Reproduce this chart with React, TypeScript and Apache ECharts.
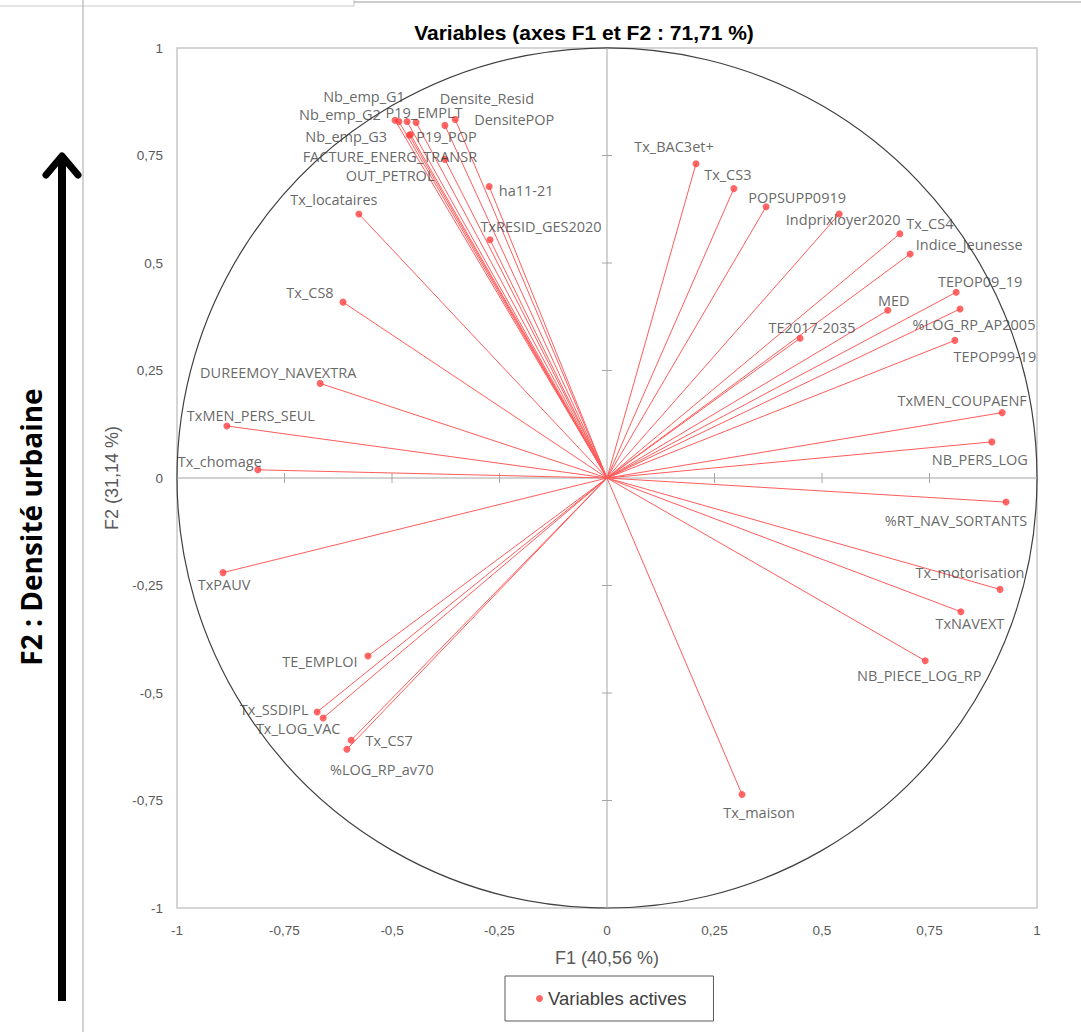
import React, { useEffect, useRef } from "react";
import * as echarts from "echarts";

const variableNames = [
  "Nb_emp_G1", "Nb_emp_G2", "P19_EMPLT", "OUT_PETROL", "Densite_Resid", "DensitePOP",
  "Nb_emp_G3", "P19_POP", "FACTURE_ENERG_TRANSR", "ha11-21", "TxRESID_GES2020", "Tx_locataires",
  "Tx_BAC3et+", "Tx_CS3", "POPSUPP0919", "Indprixloyer2020", "Tx_CS4", "Indice_Jeunesse",
  "TEPOP09_19", "MED", "%LOG_RP_AP2005", "TE2017-2035", "TEPOP99-19", "TxMEN_COUPAENF",
  "NB_PERS_LOG", "%RT_NAV_SORTANTS", "Tx_motorisation", "TxNAVEXT", "NB_PIECE_LOG_RP", "Tx_maison",
  "Tx_CS8", "DUREEMOY_NAVEXTRA", "TxMEN_PERS_SEUL", "Tx_chomage", "TxPAUV", "TE_EMPLOI",
  "Tx_SSDIPL", "Tx_LOG_VAC", "Tx_CS7", "%LOG_RP_av70",
];

const f1Values = [
  -0.493, -0.484, -0.465, -0.444, -0.377, -0.353,
  -0.460, -0.457, -0.377, -0.274, -0.272, -0.577,
  0.207, 0.295, 0.370, 0.540, 0.681, 0.705,
  0.812, 0.653, 0.821, 0.449, 0.809, 0.919,
  0.895, 0.928, 0.914, 0.823, 0.740, 0.314,
  -0.614, -0.667, -0.884, -0.812, -0.893, -0.556,
  -0.674, -0.660, -0.595, -0.605,
];

const f2Values = [
  0.832, 0.829, 0.829, 0.827, 0.820, 0.834,
  0.797, 0.799, 0.741, 0.678, 0.554, 0.614,
  0.731, 0.673, 0.631, 0.614, 0.568, 0.521,
  0.432, 0.390, 0.393, 0.325, 0.320, 0.152,
  0.084, -0.056, -0.259, -0.311, -0.425, -0.736,
  0.409, 0.220, 0.121, 0.019, -0.220, -0.414,
  -0.544, -0.558, -0.610, -0.631,
];

const axisTicks = [-1, -0.75, -0.5, -0.25, 0, 0.25, 0.5, 0.75, 1];
const AXIS_MIN = -1;
const AXIS_MAX = 1;
const AXIS_STEP = 0.25;

// label placement (pixel offsets from the point), not data
const labelOffsets: Record<string, [number, number]> = {
  "Nb_emp_G1": [-31, -24],
  "Nb_emp_G2": [-59, -7],
  "P19_EMPLT": [17, -9],
  "OUT_PETROL": [-26, 53],
  "Densite_Resid": [42, -27],
  "DensitePOP": [59, 0],
  "Nb_emp_G3": [-63, 1],
  "P19_POP": [36, 2],
  "FACTURE_ENERG_TRANSR": [-55, -3],
  "ha11-21": [37, 4],
  "TxRESID_GES2020": [51, -13],
  "Tx_locataires": [-25, -14],
  "Tx_BAC3et+": [-22, -17],
  "Tx_CS3": [-6, -14],
  "POPSUPP0919": [31, -9],
  "Indprixloyer2020": [4, 6],
  "Tx_CS4": [30, -10],
  "Indice_Jeunesse": [59, -9],
  "TEPOP09_19": [24, -11],
  "MED": [6, -10],
  "%LOG_RP_AP2005": [14, 15],
  "TE2017-2035": [12, -11],
  "TEPOP99-19": [40, 16],
  "TxMEN_COUPAENF": [-40, -12],
  "NB_PERS_LOG": [-12, 18],
  "%RT_NAV_SORTANTS": [-50, 18],
  "Tx_motorisation": [-30, -17],
  "TxNAVEXT": [9, 12],
  "NB_PIECE_LOG_RP": [-6, 15],
  "Tx_maison": [17, 18],
  "Tx_CS8": [-33, -10],
  "DUREEMOY_NAVEXTRA": [-42, -11],
  "TxMEN_PERS_SEUL": [24, -10],
  "Tx_chomage": [-38, -8],
  "TxPAUV": [1, 12],
  "TE_EMPLOI": [-48, 5],
  "Tx_SSDIPL": [-43, -2],
  "Tx_LOG_VAC": [-25, 11],
  "Tx_CS7": [38, 0],
  "%LOG_RP_av70": [35, 20],
};

const fmt = (v: number) => String(v).replace(".", ",");

export default function App() {
  const ref = useRef<HTMLDivElement>(null);

  useEffect(() => {
    if (!ref.current) return;
    const chart = echarts.init(ref.current, null, { renderer: "svg" });

    const points = variableNames.map((n, i) => [f1Values[i], f2Values[i]]);
    const scatterData = variableNames.map((n, i) => ({
      name: n,
      value: [f1Values[i], f2Values[i]],
      label: { offset: labelOffsets[n] || [0, -12] },
    }));

    const FONT = "'Open Sans', 'Noto Sans', sans-serif";
    const ARIAL = "'Liberation Sans', Arial, sans-serif";

    const option: any = {
      animation: false,
      backgroundColor: "#ffffff",
      grid: {
        left: 177,
        right: 44,
        top: 48,
        bottom: 124,
        show: true,
        borderColor: "#C8C8C8",
        borderWidth: 1.5,
        backgroundColor: "transparent",
      },
      xAxis: {
        type: "value",
        min: AXIS_MIN,
        max: AXIS_MAX,
        interval: AXIS_STEP,
        position: "bottom",
        axisLine: { show: false, onZero: false },
        axisTick: { show: false },
        splitLine: { show: false },
        axisLabel: {
          formatter: fmt,
          color: "#595959",
          fontSize: 13.5,
          fontFamily: ARIAL,
          margin: 15,
        },
        name: "F1 (40,56 %)",
        nameLocation: "middle",
        nameGap: 41,
        nameTextStyle: { color: "#595959", fontSize: 18, fontFamily: ARIAL },
      },
      yAxis: {
        type: "value",
        min: AXIS_MIN,
        max: AXIS_MAX,
        interval: AXIS_STEP,
        position: "left",
        axisLine: { show: false, onZero: false },
        axisTick: { show: false },
        splitLine: { show: false },
        axisLabel: {
          formatter: fmt,
          color: "#595959",
          fontSize: 13.5,
          fontFamily: ARIAL,
          margin: 14,
        },
        name: "F2 (31,14 %)",
        nameLocation: "middle",
        nameGap: 54,
        nameTextStyle: { color: "#595959", fontSize: 18, fontFamily: ARIAL },
      },
      legend: {
        data: [{ name: "Variables actives", icon: "circle" }],
        left: 505,
        top: 976,
        padding: [13, 27, 13, 31],
        borderColor: "#595959",
        borderWidth: 1,
        itemWidth: 7,
        itemHeight: 7,
        textStyle: { color: "#404040", fontSize: 18.5, fontFamily: ARIAL },
        selectedMode: false,
      },
      graphic: [
        { type: "line", shape: { x1: 0, y1: 6, x2: 354, y2: 6 }, style: { stroke: "#C8C8C8", lineWidth: 1 } },
        { type: "line", shape: { x1: 354, y1: 0, x2: 354, y2: 6 }, style: { stroke: "#C8C8C8", lineWidth: 1 } },
        { type: "line", shape: { x1: 354, y1: 2, x2: 1081, y2: 2 }, style: { stroke: "#9A9A9A", lineWidth: 1 } },
        { type: "line", shape: { x1: 83, y1: 0, x2: 83, y2: 1032 }, style: { stroke: "#A6A6A6", lineWidth: 1 } },
        { type: "line", shape: { x1: 62, y1: 1001, x2: 62, y2: 157 }, style: { stroke: "#000", lineWidth: 8 } },
        {
          type: "polyline",
          shape: { points: [[46, 175], [62, 156], [78, 175]] },
          style: { stroke: "#000", lineWidth: 7, fill: "none", lineCap: "round", lineJoin: "round" },
        },
        {
          type: "text",
          x: 31,
          y: 527,
          rotation: Math.PI / 2,
          style: {
            text: "F2 : Densité urbaine",
            fill: "#000",
            font: "bold 28px 'Open Sans', sans-serif",
            textAlign: "center",
            textVerticalAlign: "middle",
          },
        },
        {
          type: "text",
          x: 584,
          y: 32,
          style: {
            text: "Variables (axes F1 et F2 : 71,71 %)",
            fill: "#000",
            font: "bold 21px 'Liberation Sans', Arial, sans-serif",
            textAlign: "center",
            textVerticalAlign: "middle",
          },
        },
      ],
      series: [
        {
          name: "circle",
          type: "custom",
          silent: true,
          z: 1,
          clip: false,
          data: [[0, 0]],
          renderItem: (params: any, api: any) => {
            const c = api.coord([0, 0]);
            const s = api.size([1, 1]);
            return {
              type: "circle",
              shape: { cx: c[0], cy: c[1], r: s[0] },
              style: { fill: "none", stroke: "#404040", lineWidth: 1.2 },
            };
          },
        },
        {
          name: "axes",
          type: "custom",
          silent: true,
          z: 1,
          clip: false,
          data: axisTicks.map((t) => [t]),
          renderItem: (params: any, api: any) => {
            const t = api.value(0);
            const children: any[] = [];
            if (params.dataIndex === 0) {
              const a = api.coord([AXIS_MIN, 0]);
              const b = api.coord([AXIS_MAX, 0]);
              const c = api.coord([0, AXIS_MIN]);
              const d = api.coord([0, AXIS_MAX]);
              children.push({ type: "line", shape: { x1: a[0], y1: a[1], x2: b[0], y2: b[1] }, style: { stroke: "#A6A6A6", lineWidth: 1 } });
              children.push({ type: "line", shape: { x1: c[0], y1: c[1], x2: d[0], y2: d[1] }, style: { stroke: "#A6A6A6", lineWidth: 1 } });
            }
            if (t !== 0 && Math.abs(t) !== 1) {
              const px = api.coord([t, 0]);
              const py = api.coord([0, t]);
              children.push({ type: "line", shape: { x1: px[0], y1: px[1] - 5, x2: px[0], y2: px[1] + 5 }, style: { stroke: "#A6A6A6", lineWidth: 1 } });
              children.push({ type: "line", shape: { x1: py[0] - 5, y1: py[1], x2: py[0] + 5, y2: py[1] }, style: { stroke: "#A6A6A6", lineWidth: 1 } });
            }
            return { type: "group", children };
          },
        },
        {
          name: "vectors",
          type: "custom",
          silent: true,
          z: 2,
          data: points,
          encode: { x: 0, y: 1 },
          renderItem: (params: any, api: any) => {
            const o = api.coord([0, 0]);
            const p = api.coord([api.value(0), api.value(1)]);
            return {
              type: "line",
              shape: { x1: o[0], y1: o[1], x2: p[0], y2: p[1] },
              style: { stroke: "#FF5C5C", lineWidth: 1 },
            };
          },
        },
        {
          name: "Variables actives",
          type: "scatter",
          z: 3,
          symbol: "circle",
          symbolSize: 7,
          itemStyle: { color: "#FF4040" },
          data: scatterData,
          label: {
            show: true,
            position: "inside",
            formatter: "{b}",
            color: "#404040",
            fontSize: 14.5,
            fontFamily: FONT,
          },
          emphasis: { disabled: true },
        },
      ],
    };

    chart.setOption(option);
    return () => chart.dispose();
  }, []);

  return (
    <div
      ref={ref}
      style={{ position: "absolute", left: 0, top: 0, width: 1081, height: 1032, background: "#fff" }}
    />
  );
}
